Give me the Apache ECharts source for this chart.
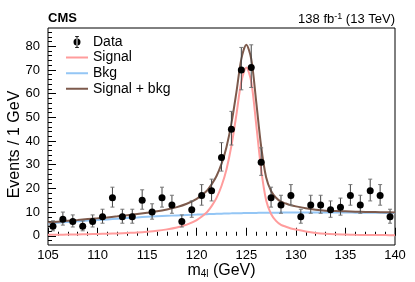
<!DOCTYPE html>
<html><head><meta charset="utf-8">
<script src="https://cdn.jsdelivr.net/npm/echarts@6/dist/echarts.min.js"></script>
<style>html,body{margin:0;padding:0;background:#fff}#c{width:415px;height:282px}</style>
</head><body><div id="c"></div>
<script>
// Data points (bin centres, 1 GeV bins)
const dataX = [105.5,106.5,107.5,108.5,109.5,110.5,111.5,112.5,113.5,114.5,115.5,116.5,117.5,118.5,119.5,120.5,121.5,122.5,123.5,124.5,125.5,126.5,127.5,128.5,129.5,130.5,131.5,132.5,133.5,134.5,135.5,136.5,137.5,138.5,139.5];
const dataY = [4,7,6,4,6,8,16,8,8,15,10,16,13,6,11,17,19,33,45,70,71,31,16,13,17,8,13,13,11,12,17,13,19,17,8];
const errUp = [2.3,3.0,2.8,2.3,2.8,3.2,4.5,3.2,3.2,4.4,3.5,4.5,4.1,2.8,3.7,4.6,4.9,6.3,7.5,9.5,9.6,6.1,4.5,4.1,4.6,3.2,4.1,4.1,3.7,3.9,4.6,4.1,4.9,4.6,3.2];
const errDown = [1.9,2.5,2.3,1.9,2.3,2.7,3.9,2.7,2.7,3.8,3.0,3.9,3.5,2.3,3.2,4.1,4.3,5.7,6.7,8.4,8.4,5.5,3.9,3.5,4.1,2.7,3.5,3.5,3.2,3.3,4.1,3.5,4.3,4.1,2.7];

// Model curves
const curveX = [105,106,107,108,109,110,111,112,113,114,115,116,117,118,119,120,121,121.5,122,122.5,123,123.5,124,124.5,125,125.5,126,126.5,127,127.5,128,128.5,129,129.5,130,131,132,133,134,135,136,137,138,139,140];
const signal = [0.4,0.45,0.5,0.55,0.65,0.75,0.85,1.0,1.2,1.4,1.7,2.1,2.7,3.5,4.7,6.6,9.8,12.5,16,21,28,38,51,65,71,65,47,28,15,9.2,6.3,4.6,3.8,3.1,2.6,1.8,1.2,0.8,0.6,0.5,0.4,0.35,0.3,0.28,0.25];
const bkg = [5.2,5.5,5.8,6.1,6.4,6.65,6.9,7.2,7.5,7.75,8.0,8.2,8.4,8.6,8.8,8.95,9.1,9.17,9.25,9.32,9.4,9.45,9.5,9.55,9.6,9.62,9.65,9.68,9.7,9.72,9.75,9.77,9.8,9.8,9.8,9.8,9.8,9.8,9.8,9.8,9.75,9.7,9.7,9.65,9.6];
const total = [5.6,5.95,6.3,6.65,7.05,7.4,7.75,8.2,8.7,9.15,9.7,10.3,11.1,12.1,13.5,15.55,18.9,21.67,25.25,30.32,37.4,47.45,60.5,74.55,80.6,74.62,56.65,37.68,24.7,18.92,16.05,14.37,13.6,12.9,12.4,11.6,11.0,10.6,10.4,10.3,10.15,10.05,10.0,9.93,9.85];

// Axis tick labels
const xTicks = [105,110,115,120,125,130,135,140];
const yTicks = [0,10,20,30,40,50,60,70,80];
const yMinorTicks = [-2,2,4,6,8,12,14,16,18,22,24,26,28,32,34,36,38,42,44,46,48,52,54,56,58,62,64,66,68,72,74,76,78,82,84,86];

const FONT = '"Liberation Sans", Arial, sans-serif';
const chart = echarts.init(document.getElementById('c'), null, {renderer: 'canvas'});

const pairs = (xs, ys) => xs.map((x, i) => [x, ys[i]]);
const corners = ' M0,0h0.01v0.01h-0.01z M21.99,13.99h0.01v0.01h-0.01z';
const dataIcon = 'path://M7.5,7a3.5,3.5 0 1,0 7,0a3.5,3.5 0 1,0 -7,0z M10.5,1h1v12h-1z M9,1h4v0.8h-4z M9,12.2h4v0.8h-4z' + corners;
const lineIcon = 'path://M0,6h22v2h-22z' + corners;

const option = {
  animation: false,
  textStyle: {fontFamily: FONT},
  title: [
    {text: 'CMS', left: 43, top: 7, textStyle: {fontFamily: FONT, fontWeight: 'bold', fontSize: 13, color: '#000'}},
    {text: '{a|138 fb}{s|-1}{a| (13 TeV)}', right: 15, top: 7,
     textStyle: {fontWeight: 'normal', rich: {a: {fontFamily: FONT, fontSize: 13, fontWeight: 'normal', color: '#000'}, s: {fontFamily: FONT, fontSize: 9, fontWeight: 'normal', color: '#000', padding: [0, 0, 6, 0]}}}}
  ],
  legend: {
    orient: 'vertical', left: 61, top: 30, itemWidth: 22, itemHeight: 14, itemGap: 1.6,
    selectedMode: false,
    textStyle: {fontFamily: FONT, fontSize: 14, color: '#000'},
    data: [
      {name: 'Data', icon: dataIcon, itemStyle: {color: '#000', opacity: 1}},
      {name: 'Signal', icon: lineIcon},
      {name: 'Bkg', icon: lineIcon},
      {name: 'Signal + bkg', icon: lineIcon}
    ]
  },
  grid: {left: 48, right: 20, top: 28, bottom: 37, show: true, borderColor: '#000', borderWidth: 1,
         backgroundColor: 'transparent', containLabel: false, outerBoundsMode: 'none'},
  xAxis: {
    type: 'value', min: 105, max: 140, interval: 5,
    axisLine: {show: false},
    axisTick: {inside: true, length: 8, lineStyle: {color: '#000'}},
    minorTick: {show: true, splitNumber: 5, length: 4, lineStyle: {color: '#000'}},
    splitLine: {show: false},
    axisLabel: {color: '#000', fontSize: 13, fontFamily: FONT, margin: 4, customValues: xTicks},
    name: '{a|m}{b|4l}{a| (GeV)}', nameLocation: 'middle', nameGap: 17, nameMoveOverlap: false,
    nameTextStyle: {rich: {a: {fontFamily: FONT, fontSize: 16, color: '#000'}, b: {fontFamily: FONT, fontSize: 10, color: '#000', padding: [7, 0, 0, 0]}}}
  },
  yAxis: [{
    type: 'value', min: -3.9, max: 87.7,
    axisLine: {show: false},
    axisTick: {inside: true, length: 8, lineStyle: {color: '#000'}, customValues: yTicks},
    splitLine: {show: false},
    axisLabel: {color: '#000', fontSize: 13, fontFamily: FONT, margin: 8, customValues: yTicks},
    name: 'Events / 1 GeV', nameLocation: 'middle', nameGap: 25, nameRotate: 90, nameMoveOverlap: false,
    nameTextStyle: {fontFamily: FONT, fontSize: 16, color: '#000', padding: [0, 16, 0, 0]}
  }, {
    type: 'value', min: -3.9, max: 87.7, position: 'left',
    axisLine: {show: false},
    axisTick: {inside: true, length: 4, lineStyle: {color: '#000'}, customValues: yMinorTicks},
    splitLine: {show: false},
    axisLabel: {show: false}
  }],
  series: [
    {name: 'Bkg', type: 'line', data: pairs(curveX, bkg), symbol: 'none', smooth: 0.3,
     lineStyle: {color: '#94c6f5', width: 2}, itemStyle: {color: '#94c6f5'}, z: 2},
    {name: 'Signal', type: 'line', data: pairs(curveX, signal), symbol: 'none', smooth: 0.3,
     lineStyle: {color: '#ff9c9c', width: 2}, itemStyle: {color: '#ff9c9c'}, z: 3},
    {name: 'Signal + bkg', type: 'line', data: pairs(curveX, total), symbol: 'none', smooth: 0.3,
     lineStyle: {color: '#7d5a4c', width: 2}, itemStyle: {color: '#7d5a4c'}, z: 4},
    {name: 'errors', type: 'custom', z: 5, silent: true,
     data: dataX.map((x, i) => [x, dataY[i], errUp[i], errDown[i]]),
     renderItem: function (params, api) {
       const x = api.value(0), y = api.value(1), up = api.value(2), dn = api.value(3);
       const t = api.coord([x, y + up]), b = api.coord([x, y - dn]);
       const st = {stroke: '#444', lineWidth: 1};
       return {type: 'group', children: [
         {type: 'line', shape: {x1: t[0], y1: t[1], x2: b[0], y2: b[1]}, style: st},
         {type: 'line', shape: {x1: t[0] - 2, y1: t[1], x2: t[0] + 2, y2: t[1]}, style: {stroke: '#777', lineWidth: 1}},
         {type: 'line', shape: {x1: b[0] - 2, y1: b[1], x2: b[0] + 2, y2: b[1]}, style: {stroke: '#777', lineWidth: 1}}
       ]};
     }},
    {name: 'Data', type: 'scatter', data: pairs(dataX, dataY), symbol: 'circle', symbolSize: 7,
     itemStyle: {color: '#000', opacity: 1}, z: 6}
  ]
};
chart.setOption(option);
</script>
</body></html>
